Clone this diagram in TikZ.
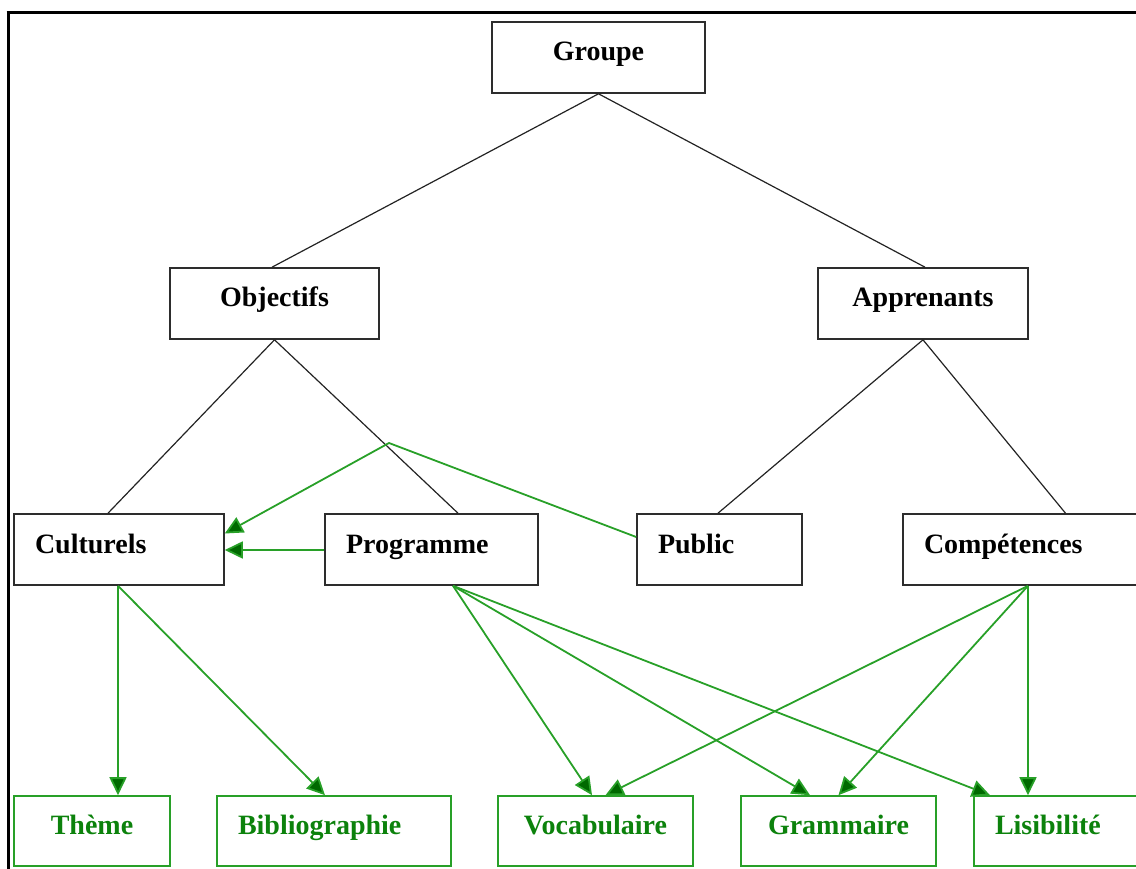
\documentclass[tikz,border=0pt]{standalone}
\usepackage{fontspec}
\setmainfont{Liberation Serif}
\usetikzlibrary{arrows.meta}
\definecolor{boxline}{RGB}{45,45,45}
\definecolor{linkline}{RGB}{35,35,35}
\definecolor{leafline}{RGB}{40,160,40}
\definecolor{leaftext}{RGB}{12,130,12}
\definecolor{tipfill}{RGB}{0,105,0}
\tikzset{
  box/.style={draw=boxline, line width=1.6pt, minimum height=71pt,
    inner xsep=21pt, inner ysep=0pt, text height=20pt, text depth=13pt,
    font=\fontsize{28}{30}\selectfont\bfseries},
  mid/.style={box, text width=#1-42pt, align=center},
  lft/.style={box, text width=#1-42pt, align=left},
  leafmid/.style={mid=#1, draw=leafline, text=leaftext, minimum height=70pt},
  leaflft/.style={lft=#1, draw=leafline, text=leaftext, minimum height=70pt},
  link/.style={draw=linkline, line width=1.2pt},
  flow/.style={draw=leafline, line width=1.8pt,
    -{Triangle[length=18pt,width=17pt,fill=tipfill]}},
  frame/.style={line width=3pt, draw=black}
}
\begin{document}
\begin{tikzpicture}[x=1pt,y=-1pt]
\useasboundingbox (0,0) rectangle (1136,869);
\clip (0,0) rectangle (1136,869);

% outer frame (top and left edges)
\draw[frame] (6.5,13) -- (1140,13);
\draw[frame] (8,11.5) -- (8,875);

% hierarchy boxes
\node[mid=213pt] (groupe) at (598.5,57.5) {Groupe};
\node[mid=209pt] (objectifs) at (274.5,303.5) {Objectifs};
\node[mid=210pt] (apprenants) at (923,303.5) {Apprenants};
\node[lft=210pt] (culturels) at (119,549.5) {Culturels};
\node[lft=213pt] (programme) at (431.5,549.5) {Programme};
\node[lft=165pt] (public) at (719.5,549.5) {Public};
\node[lft=257pt] (competences) at (1031.5,549.5) {Compétences};

% leaf boxes
\node[leafmid=156pt] (theme) at (92,831) {Thème};
\node[leaflft=234pt] (biblio) at (334,831) {Bibliographie};
\node[leafmid=195pt] (vocab) at (595.5,831) {Vocabulaire};
\node[leafmid=195pt] (gram) at (838.5,831) {Grammaire};
\node[leaflft=186pt] (lisib) at (1067,831) {Lisibilité};

% tree links
\draw[link] (groupe.south) -- ([xshift=-2.5pt]objectifs.north);
\draw[link] (groupe.south) -- ([xshift=2pt]apprenants.north);
\draw[link] (objectifs.south) -- ([xshift=-11pt]culturels.north);
\draw[link] (objectifs.south) -- ([xshift=26.5pt]programme.north);
\draw[link] (apprenants.south) -- ([xshift=-1.5pt]public.north);
\draw[link] (apprenants.south) -- ([xshift=34pt]competences.north);

% dependencies
\coordinate (bend) at (389,443);
\draw[flow] ([yshift=12.5pt]public.west) -- (bend) -- ([yshift=16pt]culturels.east);
\draw[flow] ([yshift=-0.5pt]programme.west) -- ([yshift=-0.5pt]culturels.east);
\draw[flow] ([xshift=-1pt]culturels.south) -- ([xshift=26pt]theme.north);
\draw[flow] ([xshift=-1pt]culturels.south) -- ([xshift=-9pt]biblio.north);
\draw[flow] ([xshift=21.5pt]programme.south) -- ([xshift=-3.5pt]vocab.north);
\draw[flow] ([xshift=21.5pt]programme.south) -- ([xshift=-28.5pt]gram.north);
\draw[flow] ([xshift=21.5pt]programme.south) -- ([xshift=-77pt]lisib.north);
\draw[flow] ([xshift=-3.5pt]competences.south) -- ([xshift=10pt]vocab.north);
\draw[flow] ([xshift=-3.5pt]competences.south) -- (gram.north);
\draw[flow] ([xshift=-3.5pt]competences.south) -- ([xshift=-39pt]lisib.north);
\end{tikzpicture}
\end{document}
